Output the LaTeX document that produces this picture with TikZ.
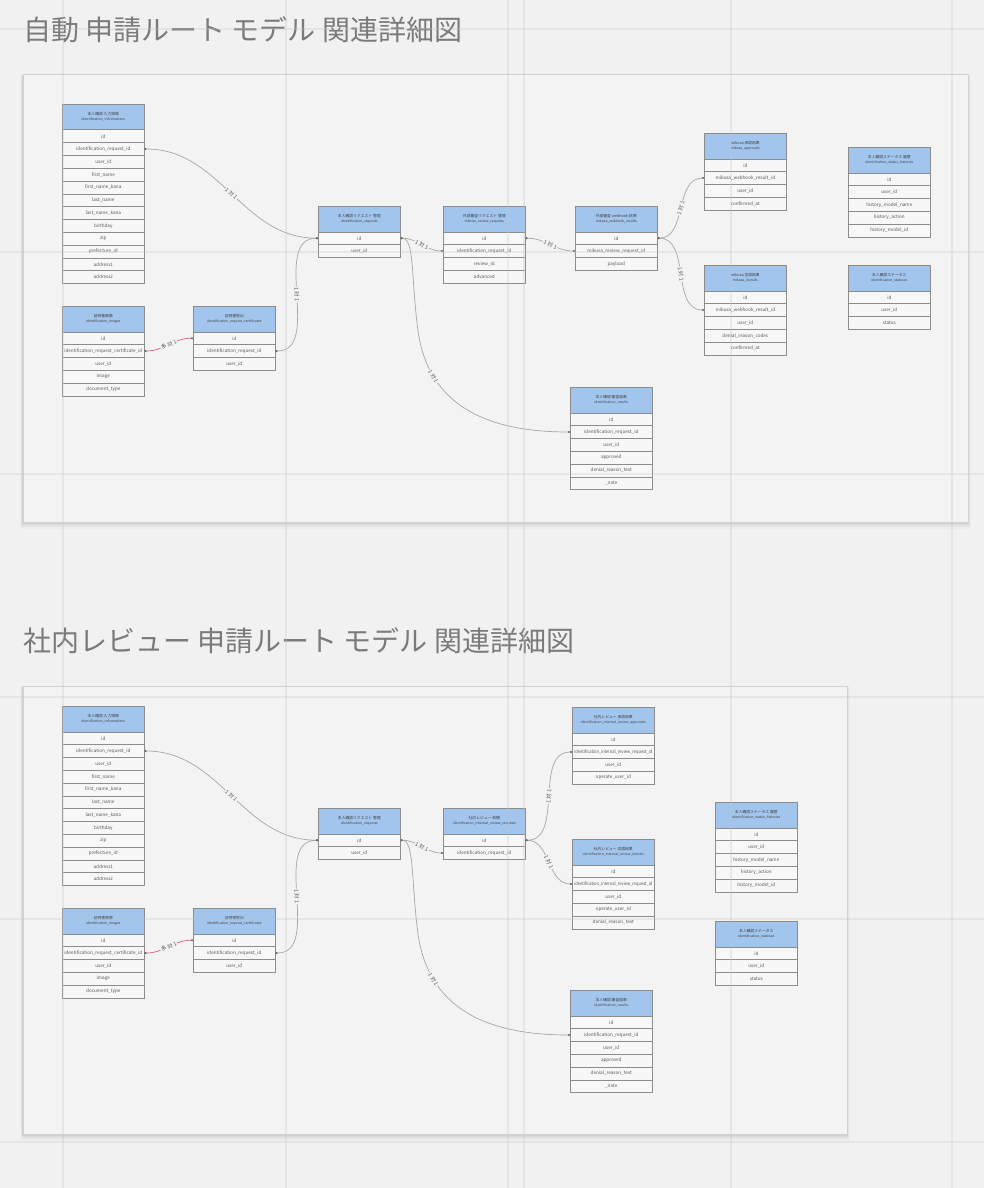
\documentclass[tikz,border=0pt]{standalone}
\usepackage{fontspec}
\setmainfont{Noto Sans CJK JP}
\usetikzlibrary{arrows.meta,calc}
\definecolor{bgc}{HTML}{F1F1F1}
\definecolor{panelc}{HTML}{F3F3F3}
\definecolor{panelb}{HTML}{D2D2D2}
\definecolor{gridc}{HTML}{C4C4C4}
\definecolor{hdrc}{HTML}{A2C5EE}
\definecolor{cellc}{HTML}{F7F7F7}
\definecolor{tblb}{HTML}{8C8C8C}
\definecolor{txtc}{HTML}{555555}
\definecolor{titlec}{HTML}{7A7A7A}
\definecolor{connc}{HTML}{A6A6A6}
\definecolor{redc}{HTML}{E0587C}
\newsavebox\fitbx
\newcommand\fitw[1]{\sbox\fitbx{#1}\ifdim\wd\fitbx>78pt\resizebox{78pt}{\height}{\usebox\fitbx}\else\usebox\fitbx\fi}
\tikzset{
  hdr/.style={draw=tblb, fill=hdrc, line width=0.6pt, minimum width=82pt, minimum height=25.5pt, inner sep=0pt, align=center, text=black!75, font=\fontsize{3.8pt}{5pt}\selectfont},
  cellbox/.style={draw=tblb, fill=cellc, line width=0.6pt, minimum width=82pt, minimum height=12.8pt, inner sep=0pt, font=\fontsize{4.6pt}{5.5pt}\selectfont, text=txtc},
  conn/.style={draw=connc, line width=0.7pt, {Circle[length=2pt,color=black!60]}-{Circle[length=2pt,color=black!60]}},
  lbl/.style={fill=panelc, inner sep=0.6pt, font=\fontsize{5.5pt}{6pt}\selectfont, text=black!65, sloped},
  gridl/.style={draw=gridc, line width=1.2pt, opacity=0.28},
  paneln/.style={draw=panelb, fill=panelc, line width=0.8pt},
  titlen/.style={anchor=base west, inner sep=0pt, font=\fontsize{28pt}{30pt}\selectfont, text=titlec},
}
\newcommand\ertbl[6]{%
  \node[hdr,anchor=north west] (#1-h) at (#2,#3) {#4\\{\fontsize{3.4pt}{5pt}\selectfont #5}};
  \foreach \rr [count=\ii] in {#6}{%
    \node[cellbox,anchor=north west] (#1-\ii) at (#2,#3+25.5+\ii*12.8-12.8) {\fitw{\rr}};
  }%
}
\newcommand\pshadow[4]{%
  \foreach \s/\o in {7/0.02,5/0.03,3/0.04,1.5/0.05}{%
    \fill[black,opacity=\o] (#1-\s*0.4,#2+\s*0.2) rectangle (#3+\s*0.4,#4+\s);
  }%
}
\begin{document}
\begin{tikzpicture}[x=1pt,y=-1pt]
\useasboundingbox (0,0) rectangle (984,1188);
\fill[bgc] (0,0) rectangle (984,1188);

% titles
\node[titlen] (t1) at (23,41) {自動 申請ルート モデル 関連詳細図};
\node[titlen] (t2) at (23,651) {社内レビュー 申請ルート モデル 関連詳細図};

% panels
\pshadow{23}{74}{968}{522}
\draw[paneln] (23,74) rectangle (968,522);
\pshadow{23}{686}{847}{1134}
\draw[paneln] (23,686) rectangle (847,1134);

% ---------- top diagram ----------
\ertbl{A}{62}{104}{本人確認 入力情報}{identification\_informations}{id,identification\_request\_id,user\_id,first\_name,first\_name\_kana,last\_name,last\_name\_kana,birthday,zip,prefecture\_id,address1,address2}
\ertbl{B}{62}{306}{証明書画像}{identification\_images}{id,identification\_request\_certificate\_id,user\_id,image,document\_type}
\ertbl{C}{193}{306}{証明書提出}{identification\_request\_certificates}{id,identification\_request\_id,user\_id}
\ertbl{D}{318}{206}{本人確認リクエスト 管理}{identification\_requests}{id,user\_id}
\ertbl{E}{443}{206}{外部審査リクエスト 管理}{mikusa\_review\_requests}{id,identification\_request\_id,review\_id,advanced}
\ertbl{F}{575}{206}{外部審査 webhook 結果}{mikusa\_webhook\_results}{id,mikusa\_review\_request\_id,payload}
\ertbl{G}{704}{133}{mikusa 承認結果}{mikusa\_approvals}{id,mikusa\_webhook\_result\_id,user\_id,confirmed\_at}
\ertbl{H}{704}{265}{mikusa 否認結果}{mikusa\_denials}{id,mikusa\_webhook\_result\_id,user\_id,denial\_reason\_codes,confirmed\_at}
\ertbl{I}{848}{147}{本人確認ステータス 履歴}{identification\_status\_histories}{id,user\_id,history\_model\_name,history\_action,history\_model\_id}
\ertbl{J}{848}{265}{本人確認ステータス}{identification\_statuses}{id,user\_id,status}
\ertbl{K}{570}{387}{本人確認 審査結果}{identification\_results}{id,identification\_request\_id,user\_id,approved,denial\_reason\_text,\_note}

\draw[conn] (A-2.east) to[out=0,in=180] node[lbl]{1 対 1} (D-1.west);
\draw[conn,draw=redc] (B-2.east) to[out=0,in=180] node[lbl]{多 対 1} (C-1.west);
\draw[conn] (D-1.west) to[out=180,in=0] node[lbl]{1 対 1} (C-2.east);
\draw[conn] (D-1.east) to[out=0,in=180] node[lbl]{1 対 1} (E-2.west);
\draw[conn] (D-1.east) .. controls +(14,0) and +(-7,-53) .. (418,331) .. controls +(10,70) and +(-90,0) .. (K-2.west) node[lbl,pos=.25]{1 対 1};
\draw[conn] (E-1.east) to[out=0,in=180] node[lbl]{1 対 1} (F-2.west);
\draw[conn] (F-1.east) to[out=0,in=180] node[lbl]{1 対 1} (G-2.west);
\draw[conn] (F-1.east) to[out=0,in=180] node[lbl]{1 対 1} (H-2.west);

% ---------- bottom diagram ----------
\ertbl{A2}{62}{706}{本人確認 入力情報}{identification\_informations}{id,identification\_request\_id,user\_id,first\_name,first\_name\_kana,last\_name,last\_name\_kana,birthday,zip,prefecture\_id,address1,address2}
\ertbl{B2}{62}{908}{証明書画像}{identification\_images}{id,identification\_request\_certificate\_id,user\_id,image,document\_type}
\ertbl{C2}{193}{908}{証明書提出}{identification\_request\_certificates}{id,identification\_request\_id,user\_id}
\ertbl{D2}{318}{808}{本人確認リクエスト 管理}{identification\_requests}{id,user\_id}
\ertbl{E2}{443}{808}{社内レビュー 依頼}{identification\_internal\_review\_requests}{id,identification\_request\_id}
\ertbl{F2}{572}{707}{社内レビュー 承認結果}{identification\_internal\_review\_approvals}{id,identification\_internal\_review\_request\_id,user\_id,operate\_user\_id}
\ertbl{G2}{572}{839}{社内レビュー 否認結果}{identification\_internal\_review\_denials}{id,identification\_internal\_review\_request\_id,user\_id,operate\_user\_id,denial\_reason\_text}
\ertbl{H2}{715}{802}{本人確認ステータス 履歴}{identification\_status\_histories}{id,user\_id,history\_model\_name,history\_action,history\_model\_id}
\ertbl{I2}{715}{921}{本人確認ステータス}{identification\_statuses}{id,user\_id,status}
\ertbl{K2}{570}{990}{本人確認 審査結果}{identification\_results}{id,identification\_request\_id,user\_id,approved,denial\_reason\_text,\_note}

\draw[conn] (A2-2.east) to[out=0,in=180] node[lbl]{1 対 1} (D2-1.west);
\draw[conn,draw=redc] (B2-2.east) to[out=0,in=180] node[lbl]{多 対 1} (C2-1.west);
\draw[conn] (D2-1.west) to[out=180,in=0] node[lbl]{1 対 1} (C2-2.east);
\draw[conn] (D2-1.east) to[out=0,in=180] node[lbl]{1 対 1} (E2-2.west);
\draw[conn] (D2-1.east) .. controls +(14,0) and +(-7,-53) .. (418,934) .. controls +(10,70) and +(-90,0) .. (K2-2.west) node[lbl,pos=.25]{1 対 1};
\draw[conn] (E2-1.east) to[out=0,in=180] node[lbl]{1 対 1} (F2-2.west);
\draw[conn] (E2-1.east) to[out=0,in=180] node[lbl]{1 対 1} (G2-2.west);

% background grid, drawn translucent on top
\foreach \gx in {63,286,508,524,731,952} \draw[gridl] (\gx,0) -- (\gx,1188);
\foreach \gy in {29,252,474,697,919,1142} \draw[gridl] (0,\gy) -- (984,\gy);
\end{tikzpicture}
\end{document}
